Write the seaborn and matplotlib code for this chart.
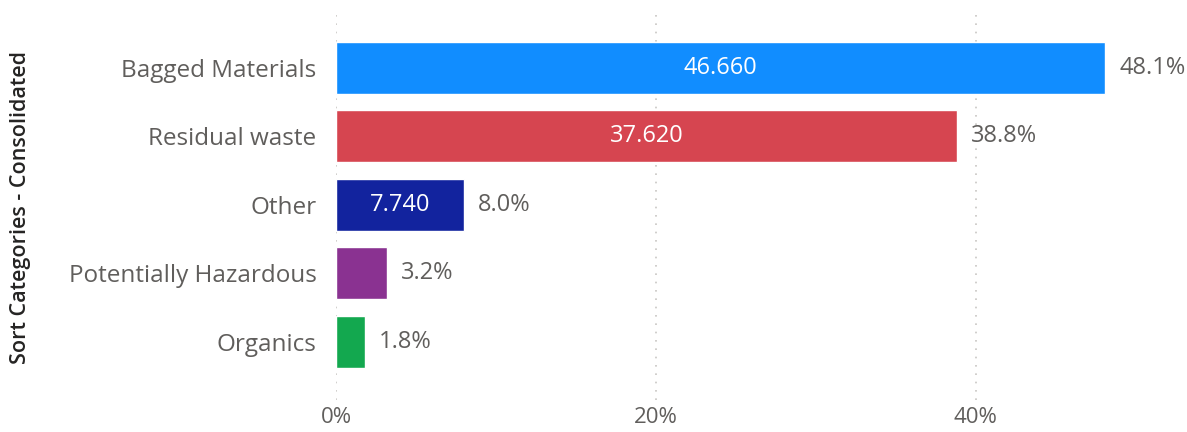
import pandas as pd
import numpy as np
import matplotlib
matplotlib.use("Agg")
import matplotlib.pyplot as plt
import seaborn as sns

categories = ["Bagged Materials", "Residual waste", "Other", "Potentially Hazardous", "Organics"]
share_pct = [48.1, 38.8, 8.0, 3.2, 1.8]
inside_labels = ["46.660", "37.620", "7.740", "", ""]
bar_colors = ["#118DFF", "#D64550", "#12239E", "#8A3291", "#13A84F"]
x_ticks = [0, 20, 40]
x_ticklabels = ["0%", "20%", "40%"]

df = pd.DataFrame({"cat": categories, "pct": share_pct})

sns.set_style("white")
plt.rcParams["font.family"] = ["Open Sans", "DejaVu Sans"]

fig = plt.figure(figsize=(11.87, 4.32), dpi=100)
ax = fig.add_axes([336 / 1187, 1 - 400 / 432, 1 - 336 / 1187, 385 / 432])

sns.barplot(data=df, y="cat", x="pct", hue="cat", palette=bar_colors, orient="h",
            width=0.76, legend=False, ax=ax, saturation=1)

ax.set_xlim(0, 53.2)
ax.set_ylim(4.85, -0.77)
ax.set_xticks(x_ticks)
ax.set_xticklabels(x_ticklabels)
ax.grid(axis="x", color="#C8C6C4", linestyle=(0, (1, 4)), linewidth=1.2)
ax.grid(axis="y", visible=False)
ax.set_axisbelow(True)
for s in ax.spines.values():
    s.set_visible(False)

ax.tick_params(axis="y", length=0, pad=14, labelsize=17.5, labelcolor="#605E5C")
ax.tick_params(axis="x", length=0, pad=5, labelsize=16, labelcolor="#605E5C")

ax.set_xlabel("")
ax.set_ylabel("Sort Categories - Consolidated", fontsize=15.5, fontweight="semibold", color="#252423")
ax.yaxis.set_label_coords(-0.358, 0.5)

for i, (p, lab) in enumerate(zip(share_pct, inside_labels)):
    if lab:
        ax.text(p / 2, i, lab, ha="center", va="center", color="white", fontsize=17)
    ax.annotate(f"{p:.1f}%", xy=(p, i), xytext=(10, 0), textcoords="offset points",
                ha="left", va="center", color="#605E5C", fontsize=17)

fig.savefig("out.png", dpi=100)
